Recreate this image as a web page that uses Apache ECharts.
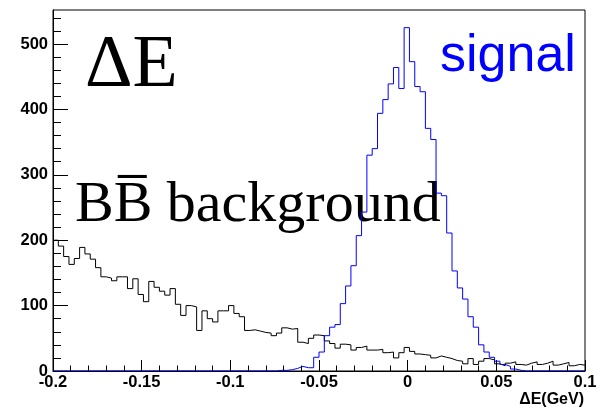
<!DOCTYPE html>
<html><head><meta charset="utf-8">
<script src="https://cdn.jsdelivr.net/npm/echarts@6/dist/echarts.min.js"></script>
<style>html,body{margin:0;padding:0;background:#fff}#c{width:602px;height:408px}</style>
</head><body><div id="c"></div>
<script>
// Histogram binning (100 bins from -0.2 to 0.1 GeV)
const xMin = -0.2;
const xMax = 0.1;
const binWidth = 0.003;

// BBbar background counts per bin
const background = [
  200, 191, 175, 163, 172, 189, 179, 171, 158, 144,
  142, 138, 144, 144, 126, 141, 117, 106, 137, 128,
  122, 116, 126, 102, 85, 100, 98, 62, 92, 80,
  75, 92, 92, 100, 88, 83, 62, 63, 61, 59,
  58, 54, 58, 66, 64, 65, 44, 42, 50, 55,
  54, 46, 42, 35, 41, 40, 32, 36, 38, 32,
  32, 33, 28, 29, 20, 28, 36, 30, 26, 25,
  24, 20, 23, 21, 19, 16, 15, 11, 19, 10,
  15, 19, 17, 11, 8, 12, 14, 10, 9, 12,
  14, 10, 12, 15, 9, 11, 13, 8, 10, 9
];

// Signal counts per bin
const signal = [
  0, 0, 0, 0, 0, 0, 0, 0, 0, 0,
  0, 0, 0, 0, 0, 0, 0, 0, 0, 0,
  0, 0, 0, 0, 0, 0, 0, 0, 0, 0,
  0, 0, 0, 0, 0, 0, 0, 0, 0, 0,
  0, 0, 1, 1, 2, 4, 7, 5, 5, 21,
  29, 54, 67, 71, 103, 130, 161, 207, 243, 330,
  340, 394, 415, 439, 464, 432, 525, 473, 435, 427,
  371, 354, 272, 268, 211, 153, 127, 110, 83, 67,
  40, 29, 21, 15, 10, 7, 3, 1, 0, 0,
  0, 0, 0, 0, 0, 0, 0, 0, 0, 0
];

const yMax = 552;
const yMajorTicks = [0, 100, 200, 300, 400, 500];
const yMinorTicks = [20, 40, 60, 80, 120, 140, 160, 180, 220, 240, 260, 280, 320, 340, 360, 380, 420, 440, 460, 480, 520, 540];
const xTickLabels = ['-0.2', '-0.15', '-0.1', '-0.05', '0', '0.05', '0.1'];

function stepData(vals) {
  const d = vals.map((v, k) => [xMin + k * binWidth, v]);
  d.push([xMax, vals[vals.length - 1]]);
  return d;
}

const xLabelFont = {color: '#000', fontFamily: 'Liberation Sans', fontWeight: 'bold', fontSize: 16.5};
const yLabelFont = {color: '#000', fontFamily: 'Liberation Sans', fontWeight: 'bold', fontSize: 16.5};

const chart = echarts.init(document.getElementById('c'), null, {renderer: 'canvas'});
chart.setOption({
  animation: false,
  backgroundColor: '#fff',
  grid: {left: 53, right: 17, top: 10, bottom: 37, show: true, borderColor: '#000', borderWidth: 1, backgroundColor: 'transparent'},
  xAxis: [{
    type: 'value', min: xMin, max: xMax, interval: 0.05,
    axisLine: {show: true, onZero: false, lineStyle: {color: '#000', width: 1}},
    axisTick: {show: true, inside: true, length: 11, lineStyle: {color: '#000'}},
    minorTick: {show: true, splitNumber: 5, length: 5.5, lineStyle: {color: '#000'}},
    splitLine: {show: false},
    axisLabel: Object.assign({margin: 3, formatter: (v) => {
      const i = Math.round((v - xMin) / 0.05);
      return xTickLabels[i] !== undefined ? xTickLabels[i] : '';
    }}, xLabelFont)
  }],
  yAxis: [{
    type: 'value', min: 0, max: yMax,
    axisLine: {show: true, onZero: false, lineStyle: {color: '#000', width: 1}},
    axisTick: {show: true, inside: true, length: 15, customValues: yMajorTicks, lineStyle: {color: '#000'}},
    splitLine: {show: false},
    axisLabel: Object.assign({margin: 5, customValues: yMajorTicks}, yLabelFont)
  }, {
    type: 'value', min: 0, max: yMax, position: 'left',
    axisLine: {show: false, onZero: false},
    axisTick: {show: true, inside: true, length: 8, customValues: yMinorTicks, lineStyle: {color: '#000'}},
    splitLine: {show: false},
    axisLabel: {show: false}
  }],
  series: [{
    type: 'line', step: 'end', data: stepData(background), showSymbol: false, symbol: 'none',
    lineStyle: {color: '#000', width: 1}, xAxisIndex: 0, yAxisIndex: 0, z: 3
  }, {
    type: 'line', step: 'end', data: stepData(signal), showSymbol: false, symbol: 'none',
    lineStyle: {color: '#0000ff', width: 1}, xAxisIndex: 0, yAxisIndex: 0, z: 4
  }],
  graphic: [
    {type: 'text', x: 85, y: 67, style: {text: 'ΔE', font: '74px "Liberation Serif"', fill: '#000', align: 'left', verticalAlign: 'middle'}},
    {type: 'text', x: 75, y: 206, style: {text: 'BB\u0305 background', font: '58px "Liberation Serif"', fill: '#000', align: 'left', verticalAlign: 'middle'}},
    {type: 'text', x: 440, y: 57, style: {text: 'signal', font: '52px "Liberation Sans"', fill: '#0000ff', align: 'left', verticalAlign: 'middle'}},
    {type: 'text', x: 584, y: 400, style: {text: 'ΔE(GeV)', font: 'bold 16px "Liberation Sans"', fill: '#000', align: 'right', verticalAlign: 'middle'}}
  ]
});
</script>
</body></html>
